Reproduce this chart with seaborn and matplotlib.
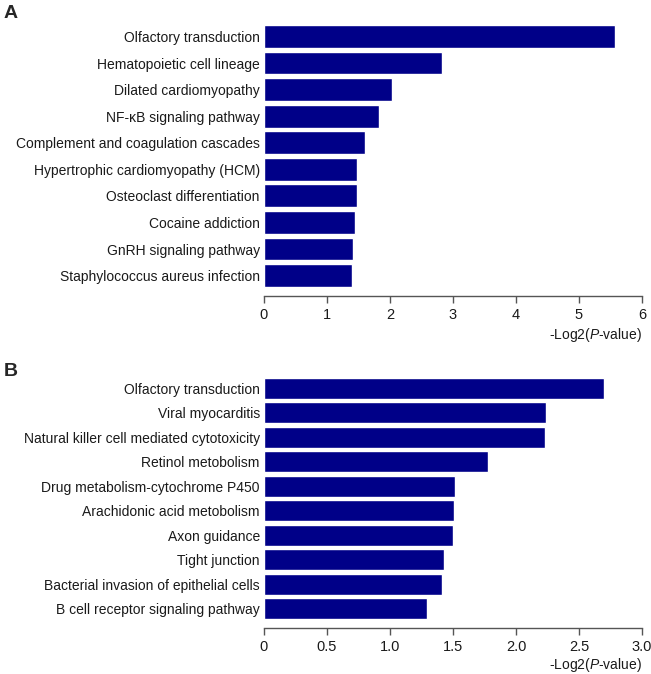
import matplotlib
matplotlib.use("Agg")
import matplotlib.pyplot as plt
import pandas as pd
import seaborn as sns

# panel A: KEGG pathways, -log2(P)
pathways_a = [
    "Olfactory transduction",
    "Hematopoietic cell lineage",
    "Dilated cardiomyopathy",
    "NF-\u03baB signaling pathway",
    "Complement and coagulation cascades",
    "Hypertrophic cardiomyopathy (HCM)",
    "Osteoclast differentiation",
    "Cocaine addiction",
    "GnRH signaling pathway",
    "Staphylococcus aureus infection",
]
score_a = [5.57, 2.82, 2.03, 1.83, 1.61, 1.48, 1.48, 1.44, 1.42, 1.40]
ticks_a = [0, 1, 2, 3, 4, 5, 6]
ticklabels_a = ["0", "1", "2", "3", "4", "5", "6"]

# panel B
pathways_b = [
    "Olfactory transduction",
    "Viral myocarditis",
    "Natural killer cell mediated cytotoxicity",
    "Retinol metobolism",
    "Drug metabolism-cytochrome P450",
    "Arachidonic acid metobolism",
    "Axon guidance",
    "Tight junction",
    "Bacterial invasion of epithelial cells",
    "B cell receptor signaling pathway",
]
score_b = [2.70, 2.24, 2.23, 1.78, 1.52, 1.51, 1.50, 1.43, 1.41, 1.29]
ticks_b = [0, 0.5, 1.0, 1.5, 2.0, 2.5, 3.0]
ticklabels_b = ["0", "0.5", "1.0", "1.5", "2.0", "2.5", "3.0"]

BAR = "#000088"
TXT = "#1a1a1a"

sns.set_theme(style="white")
plt.rcParams["font.family"] = ["Liberation Sans", "DejaVu Sans"]
plt.rcParams["mathtext.fontset"] = "custom"
plt.rcParams["mathtext.rm"] = "Liberation Sans"
plt.rcParams["mathtext.it"] = "Liberation Sans:italic"

fig = plt.figure(figsize=(6.51, 6.74), dpi=100)
ax_a = fig.add_axes([0.4055, 0.5714, 0.5806, 0.3942])
ax_b = fig.add_axes([0.4055, 0.0791, 0.5806, 0.3626])


def draw_panel(ax, names, vals, ticks, ticklabels, xmax, labelpad):
    df = pd.DataFrame({"pathway": names, "score": vals})
    sns.barplot(data=df, x="score", y="pathway", color=BAR, saturation=1,
                width=0.86, ax=ax)
    ax.set_xlim(0, xmax)
    ax.set_ylim(len(names) - 0.5, -0.5)
    ax.set_xticks(ticks)
    ax.set_xticklabels(ticklabels)
    ax.set_ylabel("")
    ax.set_xlabel(r"-Log2($\it{P}$-value)", loc="right", fontsize=10,
                  color=TXT, labelpad=labelpad)
    for s in ("top", "right", "left"):
        ax.spines[s].set_visible(False)
    ax.spines["bottom"].set_position(("outward", 5))
    ax.spines["bottom"].set_color("#555555")
    ax.spines["bottom"].set_linewidth(1.0)
    ax.tick_params(axis="x", direction="out", length=5, width=1.0,
                   color="#555555", labelsize=10.5, labelcolor=TXT, pad=4,
                   bottom=True)
    ax.tick_params(axis="y", length=0, labelsize=10, labelcolor=TXT, pad=3)


draw_panel(ax_a, pathways_a, score_a, ticks_a, ticklabels_a, 6, 3)
draw_panel(ax_b, pathways_b, score_b, ticks_b, ticklabels_b, 3.0, 1)

fig.text(0.006, 0.992, "A", fontsize=14, fontweight="bold", va="top", ha="left")
fig.text(0.006, 0.462, "B", fontsize=14, fontweight="bold", va="top", ha="left")

fig.savefig("out.png", dpi=100)
